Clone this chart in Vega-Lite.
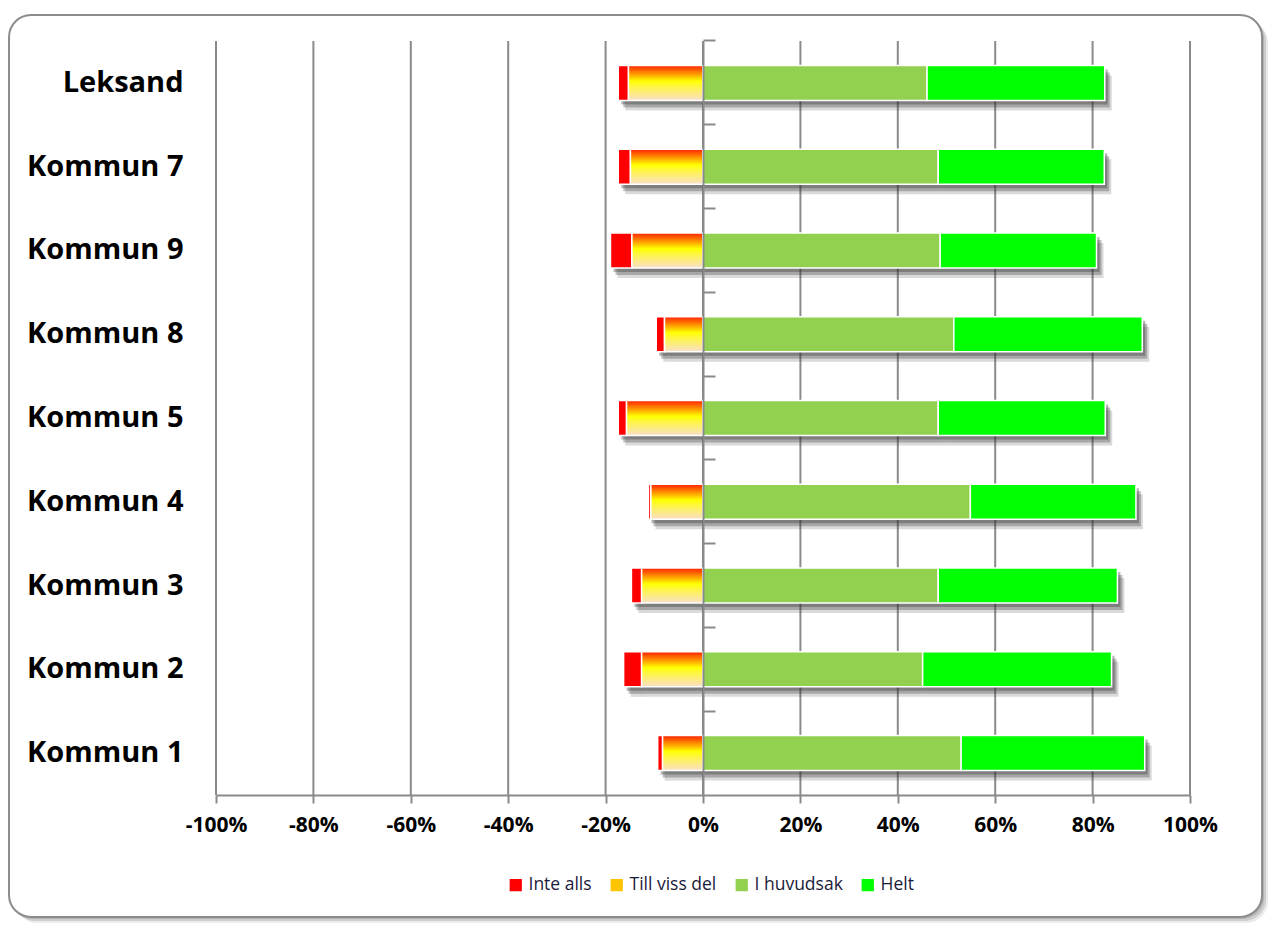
{
  "$schema": "https://vega.github.io/schema/vega-lite/v6.json",
  "width": 974,
  "height": 754,
  "autosize": {"type": "none"},
  "padding": {"left": 216, "top": 41, "right": 97, "bottom": 142},
  "background": "white",
  "config": {"view": {"stroke": null}, "font": "Open Sans"},
  "datasets": {
    "answers": [
      {"kommun": "Leksand", "svar": "Inte alls", "v": -2.1},
      {"kommun": "Leksand", "svar": "Till viss del", "v": -15.3},
      {"kommun": "Leksand", "svar": "I huvudsak", "v": 46.0},
      {"kommun": "Leksand", "svar": "Helt", "v": 36.5},
      {"kommun": "Kommun 7", "svar": "Inte alls", "v": -2.5},
      {"kommun": "Kommun 7", "svar": "Till viss del", "v": -14.9},
      {"kommun": "Kommun 7", "svar": "I huvudsak", "v": 48.3},
      {"kommun": "Kommun 7", "svar": "Helt", "v": 34.1},
      {"kommun": "Kommun 9", "svar": "Inte alls", "v": -4.4},
      {"kommun": "Kommun 9", "svar": "Till viss del", "v": -14.6},
      {"kommun": "Kommun 9", "svar": "I huvudsak", "v": 48.7},
      {"kommun": "Kommun 9", "svar": "Helt", "v": 32.1},
      {"kommun": "Kommun 8", "svar": "Inte alls", "v": -1.7},
      {"kommun": "Kommun 8", "svar": "Till viss del", "v": -7.9},
      {"kommun": "Kommun 8", "svar": "I huvudsak", "v": 51.5},
      {"kommun": "Kommun 8", "svar": "Helt", "v": 38.7},
      {"kommun": "Kommun 5", "svar": "Inte alls", "v": -1.7},
      {"kommun": "Kommun 5", "svar": "Till viss del", "v": -15.7},
      {"kommun": "Kommun 5", "svar": "I huvudsak", "v": 48.3},
      {"kommun": "Kommun 5", "svar": "Helt", "v": 34.3},
      {"kommun": "Kommun 4", "svar": "Inte alls", "v": -0.5},
      {"kommun": "Kommun 4", "svar": "Till viss del", "v": -10.7},
      {"kommun": "Kommun 4", "svar": "I huvudsak", "v": 54.9},
      {"kommun": "Kommun 4", "svar": "Helt", "v": 34.0},
      {"kommun": "Kommun 3", "svar": "Inte alls", "v": -2.1},
      {"kommun": "Kommun 3", "svar": "Till viss del", "v": -12.6},
      {"kommun": "Kommun 3", "svar": "I huvudsak", "v": 48.3},
      {"kommun": "Kommun 3", "svar": "Helt", "v": 36.8},
      {"kommun": "Kommun 2", "svar": "Inte alls", "v": -3.7},
      {"kommun": "Kommun 2", "svar": "Till viss del", "v": -12.6},
      {"kommun": "Kommun 2", "svar": "I huvudsak", "v": 45.1},
      {"kommun": "Kommun 2", "svar": "Helt", "v": 38.8},
      {"kommun": "Kommun 1", "svar": "Inte alls", "v": -1.0},
      {"kommun": "Kommun 1", "svar": "Till viss del", "v": -8.3},
      {"kommun": "Kommun 1", "svar": "I huvudsak", "v": 53.0},
      {"kommun": "Kommun 1", "svar": "Helt", "v": 37.7}
    ],
    "gridlines": [
      {"g": -100}, {"g": -80}, {"g": -60}, {"g": -40}, {"g": -20}, {"g": 0},
      {"g": 20}, {"g": 40}, {"g": 60}, {"g": 80}, {"g": 100}
    ]
  },
  "layer": [
    {
      "data": {"values": [{"frame": "border"}]},
      "encoding": {
        "x": {"datum": -142.5, "type": "quantitative", "scale": {"domain": [-100, 100], "nice": false, "zero": false},
          "axis": {
            "values": [-100, -80, -60, -40, -20, 0, 20, 40, 60, 80, 100],
            "labelExpr": "datum.value + '%'",
            "title": null, "grid": false, "labelFlush": false, "zindex": 1,
            "domainColor": "#8a8a8a", "domainWidth": 2,
            "tickColor": "#8a8a8a", "tickWidth": 2, "tickSize": 8,
            "labelFont": "Open Sans", "labelFontWeight": "bold", "labelFontSize": 21,
            "labelColor": "#000000", "labelPadding": 11
          }},
        "x2": {"datum": 114.8},
        "y": {"datum": 1.0345, "type": "quantitative", "scale": {"domain": [0, 1], "nice": false, "zero": false}, "axis": null},
        "y2": {"datum": -0.1618}
      },
      "layer": [
        {"mark": {"type": "rect", "color": "#000000", "opacity": 0.12, "cornerRadius": 22, "xOffset": 2, "x2Offset": 2, "yOffset": 2, "y2Offset": 2}},
        {"mark": {"type": "rect", "color": "#000000", "opacity": 0.12, "cornerRadius": 22, "xOffset": 4, "x2Offset": 4, "yOffset": 4, "y2Offset": 4}},
        {"mark": {"type": "rect", "color": "#000000", "opacity": 0.08, "cornerRadius": 22, "xOffset": 6, "x2Offset": 6, "yOffset": 6, "y2Offset": 6}},
        {"mark": {"type": "rect", "fill": "#ffffff", "stroke": "#8c8c8c", "strokeWidth": 2, "cornerRadius": 22}}
      ]
    },
    {
      "data": {"name": "answers"},
      "encoding": {
        "x": {
          "field": "v", "type": "quantitative", "stack": "zero",
          "scale": {"domain": [-100, 100], "nice": false, "zero": false},
          "axis": {
            "values": [-100, -80, -60, -40, -20, 0, 20, 40, 60, 80, 100],
            "labelExpr": "datum.value + '%'",
            "title": null, "grid": false, "labelFlush": false, "zindex": 1,
            "domainColor": "#8a8a8a", "domainWidth": 2,
            "tickColor": "#8a8a8a", "tickWidth": 2, "tickSize": 8,
            "labelFont": "Open Sans", "labelFontWeight": "bold", "labelFontSize": 21,
            "labelColor": "#000000", "labelPadding": 11
          }
        },
        "order": {"field": "svar", "sort": "descending"}
      },
      "layer": [
        {
          "data": {"name": "gridlines"},
          "mark": {"type": "rule", "color": "#8a8a8a", "strokeWidth": 2},
          "encoding": {
            "x": {"field": "g", "type": "quantitative", "stack": null},
            "order": null
          }
        },
        {
          "mark": {"type": "bar", "color": "#333333", "opacity": 0.35, "xOffset": 3, "x2Offset": 3, "yOffset": 4, "y2Offset": 4},
          "encoding": {
            "y": {
              "field": "kommun", "type": "nominal",
              "scale": {"domain": ["Leksand", "Kommun 7", "Kommun 9", "Kommun 8", "Kommun 5", "Kommun 4", "Kommun 3", "Kommun 2", "Kommun 1"], "paddingInner": 0.582, "paddingOuter": 0.291},
              "axis": {
                "orient": "right", "offset": -487, "labels": false, "title": null, "grid": false,
                "domainColor": "#8a8a8a", "domainWidth": 2,
                "tickColor": "#8a8a8a", "tickWidth": 2, "tickSize": 12,
                "bandPosition": -0.697, "zindex": 1
              }
            }
          }
        },
        {
          "mark": {"type": "bar", "color": "#333333", "opacity": 0.3, "xOffset": 5, "x2Offset": 5, "yOffset": 7, "y2Offset": 7},
          "encoding": {
            "y": {"field": "kommun", "type": "nominal", "axis": null}
          }
        },
        {
          "mark": {"type": "bar", "color": "#333333", "opacity": 0.18, "xOffset": 7, "x2Offset": 7, "yOffset": 10, "y2Offset": 10},
          "encoding": {
            "y": {"field": "kommun", "type": "nominal", "axis": null}
          }
        },
        {
          "mark": {"type": "bar", "stroke": "white", "strokeWidth": 1.5},
          "encoding": {
            "y": {
              "field": "kommun", "type": "nominal",
              "axis": {
                "orient": "left", "domain": false, "ticks": false, "grid": false, "title": null, "zindex": 1,
                "labelFont": "Open Sans", "labelFontWeight": "bold", "labelFontSize": 29,
                "labelColor": "#000000", "labelPadding": 33
              }
            },
            "color": {
              "condition": {
                "test": "datum.svar === 'Till viss del'",
                "value": {"gradient": "linear", "x1": 0, "y1": 0, "x2": 0, "y2": 1,
                  "stops": [{"offset": 0, "color": "#ff2000"}, {"offset": 0.45, "color": "#ffff00"}, {"offset": 0.6, "color": "#fff640"}, {"offset": 1, "color": "#f9dfca"}]}
              },
              "field": "svar", "type": "nominal",
              "scale": {"domain": ["Inte alls", "Till viss del", "I huvudsak", "Helt"], "range": ["#ff0000", "#ffc400", "#92d050", "#00ff00"]},
              "legend": {
                "orient": "none", "legendX": 291, "legendY": 835, "direction": "horizontal",
                "title": null, "labelFont": "Open Sans", "labelFontSize": 17.5, "labelColor": "#1a1a3a",
                "symbolType": "square", "symbolSize": 150, "symbolStrokeWidth": 0,
                "columnPadding": 16, "labelOffset": 4, "zindex": 1
              }
            }
          }
        }
      ],
      "resolve": {"axis": {"y": "independent"}}
    }
  ],
  "resolve": {"scale": {"y": "independent"}}
}
